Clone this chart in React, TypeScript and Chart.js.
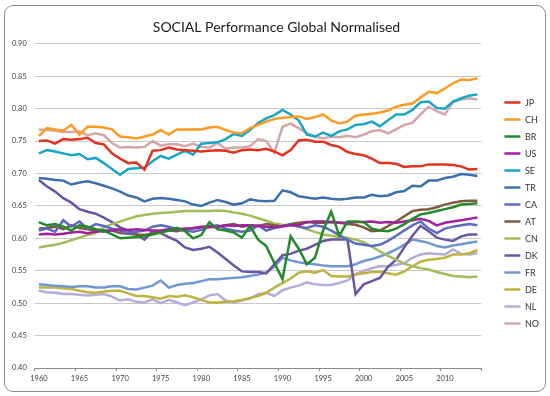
import React, { useEffect, useRef } from "react";
import { Chart, registerables } from "chart.js";
Chart.register(...registerables);

const years = ["1960","1961","1962","1963","1964","1965","1966","1967","1968","1969","1970","1971","1972","1973","1974","1975","1976","1977","1978","1979","1980","1981","1982","1983","1984","1985","1986","1987","1988","1989","1990","1991","1992","1993","1994","1995","1996","1997","1998","1999","2000","2001","2002","2003","2004","2005","2006","2007","2008","2009","2010","2011","2012","2013","2014"];

const JP = [0.750,0.751,0.746,0.753,0.752,0.753,0.755,0.747,0.745,0.731, 0.723,0.716,0.717,0.706,0.735,0.736,0.740,0.737,0.736,0.735, 0.734,0.735,0.736,0.735,0.732,0.736,0.737,0.736,0.738,0.734, 0.728,0.736,0.751,0.752,0.749,0.749,0.744,0.741,0.733,0.730, 0.728,0.723,0.716,0.716,0.715,0.710,0.711,0.711,0.714,0.714, 0.714,0.713,0.711,0.706,0.707];
const CH = [0.758,0.770,0.768,0.766,0.775,0.760,0.772,0.772,0.771,0.768, 0.757,0.756,0.754,0.757,0.760,0.767,0.760,0.768,0.768,0.768, 0.768,0.771,0.772,0.767,0.763,0.762,0.770,0.775,0.780,0.784, 0.786,0.787,0.788,0.784,0.787,0.791,0.782,0.777,0.780,0.789, 0.791,0.792,0.794,0.797,0.803,0.806,0.808,0.817,0.826,0.824, 0.831,0.839,0.845,0.844,0.847];
const BR = [0.625,0.620,0.622,0.618,0.612,0.620,0.618,0.614,0.612,0.606, 0.600,0.601,0.602,0.603,0.606,0.609,0.612,0.616,0.611,0.600, 0.605,0.625,0.614,0.612,0.609,0.601,0.619,0.598,0.588,0.562, 0.537,0.603,0.584,0.560,0.570,0.612,0.641,0.604,0.626,0.626, 0.625,0.615,0.612,0.611,0.615,0.622,0.630,0.637,0.639,0.642, 0.645,0.648,0.652,0.653,0.654];
const US = [0.606,0.607,0.606,0.607,0.609,0.610,0.608,0.610,0.612,0.612, 0.614,0.613,0.614,0.613,0.612,0.612,0.614,0.614,0.615,0.615, 0.617,0.617,0.618,0.620,0.619,0.620,0.620,0.619,0.618,0.617, 0.619,0.620,0.620,0.625,0.626,0.626,0.625,0.624,0.624,0.625, 0.625,0.626,0.624,0.625,0.624,0.626,0.628,0.630,0.627,0.620, 0.624,0.626,0.628,0.630,0.632];
const SE = [0.731,0.736,0.734,0.731,0.728,0.730,0.722,0.724,0.716,0.707, 0.698,0.707,0.708,0.709,0.719,0.727,0.723,0.729,0.735,0.729, 0.746,0.747,0.748,0.753,0.761,0.758,0.767,0.778,0.785,0.790, 0.798,0.791,0.782,0.760,0.757,0.763,0.758,0.765,0.768,0.775, 0.776,0.780,0.773,0.782,0.791,0.791,0.798,0.810,0.811,0.801, 0.800,0.811,0.816,0.820,0.822];
const TR = [0.693,0.692,0.690,0.689,0.683,0.686,0.688,0.685,0.681,0.677, 0.672,0.666,0.663,0.657,0.661,0.662,0.661,0.659,0.657,0.652, 0.650,0.655,0.659,0.656,0.652,0.654,0.660,0.658,0.657,0.658, 0.674,0.671,0.665,0.663,0.661,0.663,0.661,0.660,0.661,0.663, 0.663,0.667,0.665,0.666,0.671,0.673,0.681,0.680,0.689,0.689, 0.693,0.695,0.699,0.698,0.696];
const CA = [0.612,0.615,0.610,0.628,0.618,0.626,0.615,0.622,0.619,0.615, 0.612,0.608,0.610,0.612,0.618,0.620,0.618,0.614,0.612,0.610, 0.613,0.618,0.620,0.615,0.612,0.610,0.612,0.620,0.612,0.616, 0.618,0.622,0.618,0.616,0.620,0.618,0.612,0.605,0.598,0.592, 0.590,0.588,0.590,0.596,0.604,0.612,0.620,0.626,0.615,0.608, 0.615,0.618,0.620,0.622,0.620];
const AT = [0.615,0.616,0.618,0.614,0.620,0.616,0.614,0.612,0.610,0.612, 0.608,0.607,0.606,0.605,0.607,0.610,0.612,0.611,0.614,0.616, 0.618,0.619,0.618,0.620,0.622,0.618,0.620,0.619,0.622,0.620, 0.618,0.622,0.624,0.625,0.624,0.624,0.625,0.624,0.622,0.621, 0.617,0.611,0.612,0.619,0.626,0.634,0.642,0.644,0.645,0.648, 0.652,0.655,0.657,0.658,0.658];
const CN = [0.586,0.588,0.590,0.593,0.597,0.601,0.605,0.608,0.617,0.622, 0.626,0.630,0.634,0.636,0.638,0.639,0.640,0.641,0.642,0.642, 0.642,0.642,0.643,0.642,0.640,0.638,0.635,0.631,0.627,0.623, 0.621,0.620,0.618,0.614,0.610,0.606,0.604,0.602,0.601,0.598, 0.594,0.587,0.580,0.573,0.567,0.561,0.557,0.554,0.552,0.548, 0.545,0.542,0.541,0.540,0.541];
const DK = [0.690,0.680,0.672,0.662,0.655,0.645,0.641,0.638,0.632,0.625, 0.617,0.612,0.606,0.598,0.611,0.608,0.602,0.596,0.586,0.582, 0.584,0.587,0.578,0.568,0.558,0.549,0.548,0.548,0.546,0.560, 0.574,0.576,0.581,0.584,0.590,0.596,0.598,0.598,0.598,0.514, 0.529,0.534,0.539,0.556,0.567,0.586,0.604,0.619,0.611,0.601, 0.598,0.596,0.603,0.606,0.606];
const FR = [0.529,0.528,0.527,0.526,0.525,0.526,0.526,0.524,0.524,0.526, 0.526,0.522,0.521,0.524,0.527,0.535,0.524,0.528,0.530,0.531, 0.534,0.537,0.537,0.538,0.539,0.540,0.542,0.544,0.547,0.556, 0.570,0.566,0.563,0.561,0.560,0.558,0.557,0.557,0.557,0.560, 0.565,0.568,0.572,0.577,0.583,0.590,0.598,0.596,0.593,0.588, 0.586,0.589,0.591,0.593,0.595];
const DE = [0.524,0.524,0.524,0.523,0.522,0.519,0.517,0.516,0.518,0.519, 0.519,0.515,0.511,0.511,0.509,0.507,0.511,0.510,0.512,0.509, 0.505,0.501,0.501,0.502,0.503,0.505,0.508,0.511,0.516,0.524, 0.531,0.538,0.547,0.549,0.547,0.551,0.542,0.541,0.541,0.544, 0.546,0.548,0.548,0.546,0.544,0.549,0.557,0.564,0.567,0.568, 0.570,0.575,0.575,0.577,0.582];
const NL = [0.519,0.517,0.516,0.514,0.514,0.513,0.512,0.513,0.514,0.510, 0.504,0.506,0.502,0.501,0.506,0.500,0.505,0.501,0.497,0.501, 0.506,0.512,0.514,0.504,0.501,0.504,0.507,0.514,0.516,0.511, 0.520,0.524,0.527,0.532,0.529,0.528,0.528,0.531,0.535,0.545, 0.550,0.554,0.557,0.557,0.559,0.562,0.570,0.575,0.577,0.576, 0.575,0.583,0.576,0.575,0.577];
const NO = [0.768,0.767,0.766,0.764,0.764,0.765,0.759,0.762,0.759,0.747, 0.740,0.741,0.740,0.741,0.750,0.743,0.745,0.745,0.742,0.746, 0.741,0.740,0.747,0.738,0.740,0.740,0.742,0.753,0.750,0.732, 0.772,0.777,0.770,0.762,0.757,0.754,0.757,0.756,0.758,0.756, 0.760,0.765,0.767,0.762,0.768,0.775,0.778,0.791,0.803,0.796, 0.791,0.810,0.814,0.816,0.814];

const seriesNames = ["JP","CH","BR","US","SE","TR","CA","AT","CN","DK","FR","DE","NL","NO"];
const seriesValues = [JP, CH, BR, US, SE, TR, CA, AT, CN, DK, FR, DE, NL, NO];
const seriesColors = ["#e2321f","#ff9a22","#23892a","#a2209e","#18a6c6","#3b6fae","#5a6cc2","#7b5b3c","#a0bd5c","#6b55a3","#6f98d3","#c0b23e","#b6acdb","#d3a6a9"];

const TITLE = "SOCIAL Performance Global Normalised";
const Y_MIN = 0.4;
const Y_MAX = 0.9;
const Y_STEP = 0.05;

export default function App() {
  const ref = useRef<HTMLCanvasElement | null>(null);
  useEffect(() => {
    if (!ref.current) return;
    const chart = new Chart(ref.current, {
      type: "line",
      data: {
        labels: years,
        datasets: seriesNames.map((n, k) => ({
          label: n,
          data: seriesValues[k],
          borderColor: seriesColors[k],
          backgroundColor: seriesColors[k],
          borderWidth: 2.5,
          pointRadius: 0,
          tension: 0,
          fill: false,
        })),
      },
      options: {
        responsive: false,
        animation: false,
        devicePixelRatio: 1,
        layout: { padding: { left: 4, right: 1, top: 0, bottom: 10 } },
        plugins: {
          title: {
            display: true,
            text: TITLE,
            color: "#1a1a1a",
            font: { family: "Lato", size: 14, weight: "normal" },
            padding: { top: 19, bottom: 8 },
          },
          legend: {
            display: true,
            position: "right",
            title: { display: true, text: " ", font: { size: 1 }, padding: { top: 39, bottom: 0 } },
            labels: {
              usePointStyle: true,
              pointStyle: "line",
              pointStyleWidth: 16,
              padding: 8,
              color: "#333",
              font: { family: "Lato", size: 9 },
            },
          },
          tooltip: { enabled: false },
        },
        scales: {
          x: {
            type: "category",
            offset: true,
            grid: {
              offset: true,
              drawOnChartArea: false,
              drawTicks: true,
              tickLength: 3,
              color: (c: any) => (c.type !== "tick" || c.index % 5 === 0 ? "#8a8a8a" : "rgba(0,0,0,0)"),
            },
            border: { display: true, color: "#8a8a8a", width: 1 },
            ticks: {
              autoSkip: false,
              maxRotation: 0,
              padding: 3,
              color: "#404040",
              font: { family: "Lato", size: 7.5 },
              callback: (_v: any, i: number) => (i % 5 === 0 ? years[i] : ""),
            },
          },
          y: {
            min: Y_MIN,
            max: Y_MAX,
            grid: { color: "#c8c8c8", lineWidth: 1, drawTicks: false },
            border: { display: false },
            ticks: {
              stepSize: Y_STEP,
              padding: 8,
              color: "#404040",
              font: { family: "Lato", size: 7.5 },
              callback: (v: any) => Number(v).toFixed(2),
            },
          },
          yR: {
            type: "linear",
            position: "right",
            display: true,
            grid: { display: false, drawOnChartArea: false },
            border: { display: false },
            ticks: { display: false },
            afterFit: (s: any) => { s.width = 15; },
          },
        },
      },
    } as any);
    return () => chart.destroy();
  }, []);

  return (
    <div style={{ position: "fixed", left: 0, top: 0, width: 550, height: 396, background: "#fff" }}>
      <canvas ref={ref} width={550} height={396} style={{ width: 550, height: 396, display: "block" }} />
      <div style={{ position: "absolute", left: 4, top: 5, width: 540, height: 385, border: "1px solid #8c8c8c", borderRadius: 9, pointerEvents: "none" }} />
    </div>
  );
}
